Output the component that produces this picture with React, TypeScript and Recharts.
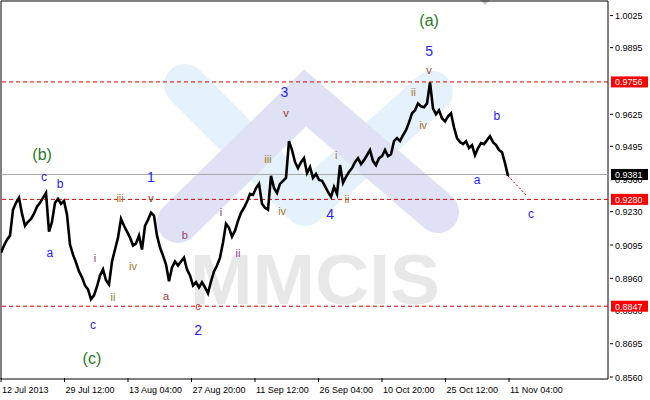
import React from "react";
import {
  ComposedChart, Line, Scatter, XAxis, YAxis, ReferenceLine, ReferenceArea,
} from "recharts";

// close prices, one every 3px of the original chart
const prices = [
  0.9064, 0.9093, 0.9117, 0.9133, 0.9238, 0.9266, 0.9286, 0.9222, 0.9173, 0.9189,
  0.9201, 0.9222, 0.9250, 0.9266, 0.9286, 0.9306, 0.9149, 0.9189, 0.9266, 0.9282,
  0.9262, 0.9274, 0.9218, 0.9097, 0.9056, 0.9024, 0.8988, 0.8964, 0.8931, 0.8915,
  0.8875, 0.8891, 0.8927, 0.8972, 0.8996, 0.8952, 0.8935, 0.9028, 0.9077, 0.9125,
  0.9201, 0.9173, 0.9149, 0.9125, 0.9093, 0.9101, 0.9133, 0.9077, 0.9173, 0.9197,
  0.9226, 0.9214, 0.9133, 0.9085, 0.9052, 0.9016, 0.8948, 0.9004, 0.9028, 0.9012,
  0.9028, 0.9044, 0.8996, 0.8972, 0.8931, 0.8944, 0.8923, 0.8944, 0.8923, 0.8899,
  0.8948, 0.8988, 0.9012, 0.9044, 0.9105, 0.9181, 0.9165, 0.9129, 0.9153, 0.9193,
  0.9226, 0.9246, 0.9270, 0.9302, 0.9298, 0.9326, 0.9343, 0.9262, 0.9246, 0.9238,
  0.9375, 0.9326, 0.9306, 0.9343, 0.9355, 0.9367, 0.9516, 0.9480, 0.9431, 0.9407,
  0.9431, 0.9447, 0.9387, 0.9411, 0.9367, 0.9383, 0.9359, 0.9355, 0.9334, 0.9310,
  0.9290, 0.9330, 0.9302, 0.9419, 0.9347, 0.9371, 0.9391, 0.9407, 0.9431, 0.9447,
  0.9423, 0.9439, 0.9459, 0.9480, 0.9435, 0.9419, 0.9447, 0.9455, 0.9480, 0.9455,
  0.9463, 0.9516, 0.9528, 0.9516, 0.9540, 0.9560, 0.9592, 0.9629, 0.9641, 0.9669,
  0.9657, 0.9653, 0.9669, 0.9754, 0.9649, 0.9625, 0.9641, 0.9609, 0.9596, 0.9617,
  0.9629, 0.9572, 0.9528, 0.9512, 0.9504, 0.9516, 0.9488, 0.9500, 0.9459, 0.9488,
  0.9508, 0.9504, 0.9520, 0.9536, 0.9512, 0.9500, 0.9480, 0.9471, 0.9427, 0.9375,
];

const projIdx = [169, 175];
const projVal = [0.9375, 0.9298];

const timeLabels = [
  "12 Jul 2013", "29 Jul 12:00", "13 Aug 04:00", "27 Aug 20:00", "11 Sep 12:00",
  "26 Sep 04:00", "10 Oct 20:00", "25 Oct 12:00", "11 Nov 04:00",
];
const timeTicks = [0.01, 21.17, 42.33, 63.5, 84.67, 105.83, 127, 148.17, 169.33];

const priceTicks = [
  1.0025, 0.9895, 0.976, 0.9625, 0.9495, 0.936, 0.923, 0.9095, 0.896, 0.883, 0.8695, 0.856,
];
const levels = [0.9756, 0.928, 0.8847];
const lastPrice = 0.9381;

// elliott wave marks
const waveText = [
  "(a)", "5", "v", "ii", "iv", "b", "a", "c",
  "3", "v", "iii", "iv", "i", "ii", "4",
  "(b)", "c", "b", "a", "1", "iii", "v", "i", "iv", "ii", "c", "(c)",
  "b", "a", "c", "2", "i", "ii",
];
const waveIdx = [
  142.7, 142.7, 142.7, 137.5, 140.7, 165.3, 158.7, 176.7,
  94.5, 95, 89, 93.7, 111.7, 115.3, 109.7,
  13.7, 14.3, 19.7, 16.3, 50, 39.7, 50, 31.3, 44, 37.3, 30.7, 30.3,
  61.3, 55, 65.7, 65.7, 73.3, 79,
];
const wavePrice = [
  1.0003, 0.9883, 0.9806, 0.9717, 0.958, 0.9616, 0.9359, 0.9222,
  0.9717, 0.9629, 0.9443, 0.9234, 0.9459, 0.9282, 0.9222,
  0.9463, 0.9371, 0.9343, 0.9064, 0.9371, 0.9286, 0.9286, 0.9044, 0.9008, 0.8883, 0.877, 0.8637,
  0.9137, 0.8887, 0.8847, 0.875, 0.923, 0.9064,
];
const waveKind = [
  "big", "num", "v", "gold", "gold", "abc", "abc", "abc",
  "num", "v", "gold", "gold", "gold", "gold", "num",
  "big", "abc", "abc", "abc", "num", "gold", "v", "purple", "gold", "gold", "abc", "big",
  "plum", "brown", "brown", "num", "purple", "purple",
];

const kindStyle: Record<string, { color: string; size: number }> = {
  big: { color: "#2a7a22", size: 16 },
  num: { color: "#2323ff", size: 14 },
  abc: { color: "#2323ff", size: 12 },
  v: { color: "#a0401e", size: 11 },
  gold: { color: "#a5782a", size: 11 },
  purple: { color: "#8e3a8e", size: 11 },
  plum: { color: "#9a3a60", size: 11 },
  brown: { color: "#a03a30", size: 11 },
};

const rows = Array.from({ length: 176 }, (_, i) => {
  const k = projIdx.indexOf(i);
  return {
    i,
    p: i < prices.length ? prices[i] : null,
    proj: k >= 0 ? projVal[k] : null,
  };
});

const waves = waveText.map((t, k) => ({ i: waveIdx[k], p: wavePrice[k], t, kind: waveKind[k] }));

const FONT = "Liberation Sans, Arial, sans-serif";
const Y_MIN = 0.8552;
const Y_MAX = 1.0084;
const X_MAX = 202.33;
const PLOT_TOP = 1;
const PLOT_BOTTOM = 378;
const TAG_H = 11;

function TimeTick({ x, index }: any) {
  return (
    <g>
      <line x1={x} x2={x} y1={PLOT_BOTTOM} y2={PLOT_BOTTOM + 4} stroke="#000" />
      <text x={x + 1} y={PLOT_BOTTOM + 15} fontSize={9} fontFamily={FONT} fill="#000">
        {timeLabels[index]}
      </text>
    </g>
  );
}

// price labels; the part hidden under a level tag is clipped away
function PriceTick({ y, payload, index }: any) {
  const ppu = (PLOT_BOTTOM - PLOT_TOP) / (Y_MAX - Y_MIN);
  const tagYs = [...levels, lastPrice].map((v) => y + (payload.value - v) * ppu);
  const near = tagYs.find((ty) => Math.abs(ty - y) < 12);
  const id = "ptclip" + index;
  let clip: React.ReactNode = null;
  if (near !== undefined) {
    const top = near + TAG_H / 2;
    clip = (
      <clipPath id={id}>
        {y > near
          ? <rect x={600} y={top} width={50} height={20} />
          : <rect x={600} y={near - TAG_H / 2 - 20} width={50} height={20} />}
      </clipPath>
    );
  }
  return (
    <g>
      {clip}
      <g clipPath={near !== undefined ? `url(#${id})` : undefined}>
        <line x1={610} x2={613} y1={y} y2={y} stroke="#000" />
        <text x={615} y={y + 3.5} fontSize={9} fontFamily={FONT} fill="#000">
          {payload.value.toFixed(4)}
        </text>
      </g>
    </g>
  );
}

function levelTag(value: number, bg: string) {
  return (props: any) => {
    const vb = props.viewBox;
    const x = vb.x + vb.width + 3;
    return (
      <g>
        <rect x={x} y={vb.y - TAG_H / 2} width={37} height={TAG_H} fill={bg} />
        <text x={x + 4} y={vb.y + 3.5} fontSize={9} fontFamily={FONT} fill="#fff">
          {value.toFixed(4)}
        </text>
      </g>
    );
  };
}

function WaveMark(props: any) {
  const { cx, cy, payload } = props;
  const s = kindStyle[payload.kind];
  return (
    <text
      x={cx}
      y={cy}
      textAnchor="middle"
      dominantBaseline="central"
      fontSize={s.size}
      fontFamily={FONT}
      fill={s.color}
    >
      {payload.t}
    </text>
  );
}

// faint broker logo behind the chart
function Watermark() {
  return (
    <svg width={650} height={400} style={{ position: "absolute", left: 0, top: 0 }}>
      <polyline points="185,85 305,205 432,92" fill="none" stroke="#e5f2fb" strokeWidth={42}
        strokeLinecap="round" strokeLinejoin="round" />
      <polyline points="178,222 305,98 438,212" fill="none" stroke="#dfe2f5" strokeWidth={42}
        strokeLinecap="round" strokeLinejoin="miter" />
      <text x={190} y={304} fontSize={70} fontWeight="bold" fontFamily={FONT} fill="#e8e8e8"
        textLength={250} lengthAdjust="spacingAndGlyphs">MMCIS</text>
      <polygon points="480,0 490,0 485,5" fill="#c8c8c8" />
    </svg>
  );
}

export default function App() {
  return (
    <div style={{ position: "relative", width: 650, height: 400, background: "#fff", overflow: "hidden" }}>
      <style>{"body{margin:0}"}</style>
      <Watermark />
      <div style={{ position: "absolute", left: 0, top: 0 }}>
        <ComposedChart width={650} height={400} data={rows} margin={{ top: PLOT_TOP, right: 0, left: 1, bottom: 0 }}>
          <XAxis
            dataKey="i"
            type="number"
            domain={[0, X_MAX]}
            ticks={timeTicks}
            interval={0}
            tick={<TimeTick />}
            tickLine={false}
            axisLine={false}
            height={21}
            allowDataOverflow
          />
          <YAxis
            orientation="right"
            type="number"
            domain={[Y_MIN, Y_MAX]}
            ticks={priceTicks}
            interval={0}
            tick={<PriceTick />}
            tickLine={false}
            axisLine={false}
            width={42}
            allowDataOverflow
          />
          <ReferenceLine y={lastPrice} stroke="#a8a8a8" strokeWidth={1} />
          {levels.map((v) => (
            <ReferenceLine key={v} y={v} stroke="#e00000" strokeDasharray="4 3" strokeWidth={1} />
          ))}
          <Line
            dataKey="p"
            stroke="#000"
            strokeWidth={2.6}
            dot={false}
            type="linear"
            isAnimationActive={false}
          />
          <Line
            dataKey="proj"
            stroke="#e00000"
            strokeWidth={1}
            strokeDasharray="2 2"
            dot={false}
            connectNulls
            isAnimationActive={false}
          />
          <Scatter data={waves} dataKey="p" shape={<WaveMark />} isAnimationActive={false} />
          <ReferenceArea x1={0} x2={X_MAX} y1={Y_MIN} y2={Y_MAX} fill="none" stroke="#000" strokeWidth={1} ifOverflow="visible" />
          <ReferenceLine y={lastPrice} stroke="none" label={levelTag(lastPrice, "#000")} />
          {levels.map((v) => (
            <ReferenceLine key={"t" + v} y={v} stroke="none" label={levelTag(v, "#ff0000")} />
          ))}
        </ComposedChart>
      </div>
    </div>
  );
}
